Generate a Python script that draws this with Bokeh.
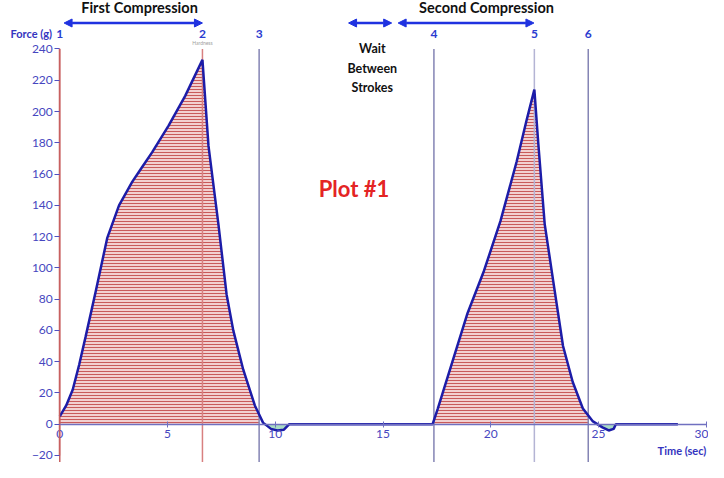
import numpy as np
from bokeh.plotting import figure
from bokeh.models import LinearAxis, FixedTicker, Range1d, Arrow, NormalHead
from bokeh.core.properties import value
from bokeh.embed import file_html
from bokeh.resources import INLINE

# ---- data ----
time_s = [0.0, 0.3, 0.6, 0.9, 1.2, 1.67, 2.2, 2.75, 3.36, 3.8, 4.29, 5.05, 5.82, 6.62,
          6.9, 7.36, 7.74, 8.05, 8.51, 9.05, 9.43, 9.8, 10.1, 10.4, 10.65,
          13.0, 15.0, 17.3, 17.54, 18.15, 18.92, 19.68, 20.45, 21.2, 21.67, 22.02,
          22.2, 22.5, 22.89, 23.35, 23.8, 24.27, 24.72, 25.18, 25.47, 25.7, 25.8, 28.68]
force_g = [5, 12, 22, 38, 56, 85, 119, 140, 155, 164, 174, 191, 210, 233,
           178, 128, 83, 60, 35, 12, 1, -3, -4, -3.5, 0,
           0, 0, 0, 10, 37, 71, 98, 130, 168, 195, 214,
           180, 128, 92, 50, 27, 10, 2, -2, -4, -3, 0, 0]

marker_labels = ["1", "2", "3", "4", "5", "6"]
marker_times = [0.0, 6.62, 9.25, 17.36, 22.02, 24.52]
marker_colors = ["#c86060", "#d88080", "#8484b4", "#8484b4", "#b4b4d4", "#8484b4"]

x_ticks = [0, 5, 10, 15, 20, 25, 30]
y_ticks = [-20, 0, 20, 40, 60, 80, 100, 120, 140, 160, 180, 200, 220, 240]

phase_labels = ["First Compression", "Second Compression"]
phase_centers = [3.7, 19.8]
phase_arrows = [(0.2, 6.62), (15.7, 22.0)]
wait_arrow = (13.4, 15.4)
wait_lines = ["Wait", "Between", "Strokes"]

t = np.array(time_s, dtype=float)
f = np.array(force_g, dtype=float)

XR = (-2.75, 30.1)
YR = (-24.5, 271)

p = figure(width=708, height=462, output_backend="svg", toolbar_location=None,
           x_range=Range1d(*XR), y_range=Range1d(*YR),
           x_axis_type=None, y_axis_type=None,
           min_border=0, outline_line_color=None, background_fill_color="white")
p.xgrid.visible = False
p.ygrid.visible = False

BLUE_TXT = "#4646c0"

# axes
xa = LinearAxis(fixed_location=0, ticker=FixedTicker(ticks=x_ticks), bounds=(0, 30))
xa.axis_line_color = "#7070c0"
xa.axis_line_width = 1.5
xa.major_tick_line_color = "#7070c0"
xa.major_tick_in = 3
xa.major_tick_out = 3
xa.minor_tick_line_color = None
xa.major_label_text_color = BLUE_TXT
xa.major_label_text_font = "Lato"
xa.major_label_text_font_size = "12px"
xa.major_label_standoff = 3
p.add_layout(xa, "below")

ya = LinearAxis(fixed_location=0, ticker=FixedTicker(ticks=y_ticks), bounds=(-20, 240))
ya.axis_line_color = "#c86060"
ya.axis_line_width = 1.5
ya.major_tick_line_color = "#5050c0"
ya.major_tick_in = 0
ya.major_tick_out = 5
ya.minor_tick_line_color = None
ya.major_label_text_color = BLUE_TXT
ya.major_label_text_font = "Lato"
ya.major_label_text_font_size = "12px"
ya.major_label_standoff = 2
p.add_layout(ya, "left")


def window(a, b):
    m = (t >= a) & (t <= b)
    xs = np.concatenate([[a], t[m], [b]])
    ys = np.concatenate([[np.interp(a, t, f)], f[m], [np.interp(b, t, f)]])
    return xs, ys

# hatched areas
for a, b in [(marker_times[0], marker_times[2]), (marker_times[3], marker_times[5])]:
    xs, ys = window(a, b)
    p.varea(x=xs, y1=np.zeros_like(ys), y2=np.clip(ys, 0, None),
            fill_color="#f2d0d0", hatch_pattern="horizontal_line",
            hatch_color="#c85a5a", hatch_scale=3, hatch_weight=1)

# small negative dips (green)
for a, b in [(9.43, 10.65), (25.0, 25.8)]:
    xs, ys = window(a, b)
    p.varea(x=xs, y1=np.clip(ys, None, 0), y2=np.zeros_like(ys), fill_color="#a8dcc4")

# marker lines
p.segment(x0=marker_times, x1=marker_times, y0=[-26] * 6, y1=[240] * 6,
          line_color=marker_colors, line_width=1.5)

# curve
p.line(t, f, line_color="#1c1ca8", line_width=2.5)

# marker numbers
p.text(x=marker_times, y=[249.6] * 6, text=marker_labels, text_align="center",
       text_baseline="middle", text_color="#2a3cd0", text_font=value("Lato"),
       text_font_style="bold", text_font_size="12px")

p.text(x=[-1.32], y=[249.6], text=["Force (g)"], text_align="center",
       text_baseline="middle", text_color="#3434c0", text_font=value("Lato"),
       text_font_style="bold", text_font_size="11px")

p.text(x=[6.62], y=[243.5], text=["Hardness"], text_align="center",
       text_baseline="middle", text_color="#a0a0a0", text_font=value("Lato"),
       text_font_size="5px")

# phase titles and arrows
p.text(x=phase_centers, y=[266.5] * 2, text=phase_labels, text_align="center",
       text_baseline="middle", text_color="#111111", text_font=value("Lato"),
       text_font_style="bold", text_font_size="14.5px")

ARROW_C = "#1f32e0"
for a, b in phase_arrows + [wait_arrow]:
    p.add_layout(Arrow(x_start=a, y_start=256.6, x_end=b, y_end=256.6,
                       line_color=ARROW_C, line_width=2.5,
                       start=NormalHead(size=8, fill_color=ARROW_C, line_color=ARROW_C),
                       end=NormalHead(size=8, fill_color=ARROW_C, line_color=ARROW_C)))

p.text(x=[14.5] * 3, y=[240, 227.3, 215.3], text=wait_lines, text_align="center",
       text_baseline="middle", text_color="#111111", text_font=value("Lato"),
       text_font_style="bold", text_font_size="12.5px")

p.text(x=[13.65], y=[150.6], text=["Plot #1"], text_align="center",
       text_baseline="middle", text_color="#e42424", text_font=value("Lato"),
       text_font_style="bold", text_font_size="22px")

p.text(x=[30.0], y=[-16.6], text=["Time (sec)"], text_align="right",
       text_baseline="middle", text_color="#3434c0", text_font=value("Lato"),
       text_font_style="bold", text_font_size="11px")

open("out.html", "w").write(file_html(p, INLINE))
